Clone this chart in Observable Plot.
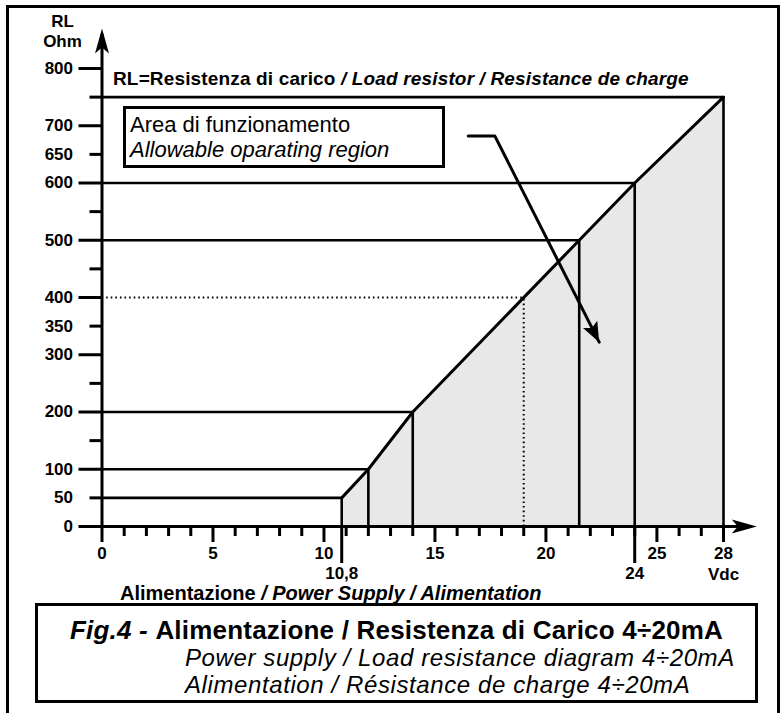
<!DOCTYPE html>
<html>
<head>
<meta charset="utf-8">
<script src="https://cdn.jsdelivr.net/npm/d3@7"></script>
<script src="https://cdn.jsdelivr.net/npm/@observablehq/plot@0.6"></script>
<style>
  html, body { margin: 0; padding: 0; background: #fff; }
  body { font-family: "Liberation Sans", Arial, sans-serif; color: #000; }
  #wrap { position: relative; width: 781px; height: 713px; overflow: hidden; }
  #frame { position: absolute; left: 6px; top: 5px; width: 774px; height: 800px; border: 3px solid #000; box-sizing: border-box; }
  #chart { position: absolute; left: 0; top: 0; }
  #chart svg { overflow: visible; }
  .ov { position: absolute; white-space: nowrap; }
  #topnote { left: 113px; top: 69px; font-size: 19px; font-weight: bold; line-height: 19px; letter-spacing: 0.15px; }
  #areabox { left: 123px; top: 106px; width: 322px; height: 62px; border: 3px solid #000; box-sizing: border-box; background: #fff; }
  #areabox div { position: absolute; left: 4px; font-size: 22px; line-height: 22px; }
  #xtitle { left: 120px; top: 583px; font-size: 20px; font-weight: bold; line-height: 20px; }
  #caption { left: 35px; top: 603px; width: 723px; height: 100px; border: 3px solid #000; box-sizing: border-box; }
  #caption div { position: absolute; white-space: nowrap; }
  #cap1 { left: 32px; top: 11px; font-size: 26px; line-height: 26px; font-weight: bold; letter-spacing: 0.2px; }
  #cap2 { left: 147px; top: 40px; font-size: 24px; line-height: 24px; font-style: italic; letter-spacing: 0.6px; }
  #cap3 { left: 147px; top: 67px; font-size: 24px; line-height: 24px; font-style: italic; letter-spacing: 0.6px; }
</style>
</head>
<body>
<div id="wrap">
  <div id="frame"></div>
  <div id="chart"></div>
  <div id="topnote" class="ov"></div>
  <div id="areabox" class="ov"><div id="ab1" style="top:5px"></div><div id="ab2" style="top:30px;font-style:italic"></div></div>
  <div id="xtitle" class="ov"></div>
  <div id="caption" class="ov"><div id="cap1"></div><div id="cap2"></div><div id="cap3"></div></div>
</div>
<script>
// ---- data ----
const supplyV = [10.8, 12, 14, 21.5, 24, 28];        // Vdc at each marked point
const loadR   = [50, 100, 200, 500, 600, 750];        // RL (Ohm) at each marked point
const exampleV = [19];                                // dotted example
const exampleR = [400];
const yMajorTicks   = [0, 100, 200, 300, 400, 500, 600, 700, 800];
const yMinorLabeled = [50, 350, 650];
const yMinorTicks   = [150, 250, 450, 550, 750];
const xMajorTicks   = [0, 5, 10, 15, 20, 25, 28];
const xMinorTicks   = [1, 2, 3, 4, 6, 7, 8, 9, 11, 12, 13, 14, 16, 17, 18, 19, 21, 22, 23, 24, 26, 27];
const xSecondRow    = [10.8, 24];
const xSecondLabels = ["10,8", "24"];
const xUnitAt = [28];
const xUnit = "Vdc";
const yUnitLines = ["RL", "Ohm"];
const axisEnds = { x: 29.5, y: 870 };
const calloutV = [16.5, 17.7, 22.4];
const calloutR = [682, 682, 322];

// texts
const topNoteA = "RL=Resistenza di carico ";
const topNoteB = "/ Load resistor / Resistance de charge";
const areaLine1 = "Area di funzionamento";
const areaLine2 = "Allowable oparating region";
const xTitleA = "Alimentazione ";
const xTitleB = "/ Power Supply / Alimentation";
const cap1A = "Fig.4 - ";
const cap1B = "Alimentazione / Resistenza di Carico 4÷20mA";
const cap2 = "Power supply / Load resistance diagram 4÷20mA";
const cap3 = "Alimentation / Résistance de charge 4÷20mA";

// ---- build ----
const pts = supplyV.map((v, i) => ({ v, r: loadR[i] }));
const ex = exampleV.map((v, i) => ({ v, r: exampleR[i] }));
const callout = calloutV.map((v, i) => ({ v, r: calloutR[i] }));
const secondLabel = new Map(xSecondRow.map((v, i) => [v, xSecondLabels[i]]));

const stealth = { draw(ctx) { ctx.moveTo(0, 0); ctx.lineTo(7, 25); ctx.lineTo(0, 19); ctx.lineTo(-7, 25); ctx.closePath(); } };
const smallHead = { draw(ctx) { ctx.moveTo(0, 0); ctx.lineTo(8, 20); ctx.lineTo(0, 16); ctx.lineTo(-8, 20); ctx.closePath(); } };

const font = { fontSize: 17, fontWeight: "bold", fill: "black" };

const chart = Plot.plot({
  width: 781,
  height: 600,
  marginLeft: 101.5,
  marginRight: 58,
  marginTop: 68,
  marginBottom: 74,
  x: { domain: [0, 28] },
  y: { domain: [0, 800] },
  style: { fontFamily: "'Liberation Sans', Arial, sans-serif", background: "transparent", color: "black" },
  marks: [
    Plot.areaY(pts, { x: "v", y: "r", fill: "#e8e8e8" }),
    Plot.ruleY(pts, { y: "r", x1: 0, x2: "v", stroke: "black", strokeWidth: 2.6 }),
    Plot.ruleX(pts, { x: "v", y1: 0, y2: "r", stroke: "black", strokeWidth: 2.6 }),
    Plot.ruleY(ex, { y: "r", x1: 0, x2: "v", stroke: "black", strokeWidth: 2, strokeDasharray: "1.6,3", strokeLinecap: "butt" }),
    Plot.ruleX(ex, { x: "v", y1: 0, y2: "r", stroke: "black", strokeWidth: 2, strokeDasharray: "1.6,3", strokeLinecap: "butt" }),
    Plot.line(pts, { x: "v", y: "r", stroke: "black", strokeWidth: 3 }),
    // axes lines + arrowheads
    Plot.ruleX([0], { y1: 0, y2: axisEnds.y - 10, stroke: "black", strokeWidth: 3 }),
    Plot.ruleY([0], { x1: 0, x2: axisEnds.x - 0.5, stroke: "black", strokeWidth: 3 }),
    Plot.dot([{ v: 0, r: axisEnds.y }], { x: "v", y: "r", symbol: stealth, fill: "black", stroke: "none" }),
    Plot.dot([{ v: axisEnds.x, r: 0 }], { x: "v", y: "r", symbol: stealth, rotate: 90, fill: "black", stroke: "none" }),
    // y axis ticks
    Plot.axisY(yMajorTicks, { tickSize: 23, tickPadding: 6, strokeWidth: 3, label: null, ...font }),
    Plot.axisY(yMinorLabeled, { tickSize: 12, tickPadding: 17, strokeWidth: 3, label: null, ...font }),
    Plot.axisY(yMinorTicks, { tickSize: 12, strokeWidth: 3, tickFormat: () => "", label: null }),
    // x axis ticks
    Plot.axisX(xMinorTicks, { tickSize: 10, strokeWidth: 3, tickFormat: () => "", label: null }),
    Plot.axisX(xMajorTicks, { tickSize: 16, tickPadding: 4, strokeWidth: 3, label: null, ...font }),
    Plot.axisX(xSecondRow, { tickSize: 37, tickPadding: 3, strokeWidth: 3, tickFormat: (d) => secondLabel.get(d), label: null, ...font }),
    Plot.text(xUnitAt, { x: (d) => d, frameAnchor: "bottom", lineAnchor: "middle", textAnchor: "middle", dy: 48, text: () => xUnit, ...font }),
    Plot.text(yUnitLines.slice(0, 1), { frameAnchor: "top-left", lineAnchor: "middle", textAnchor: "middle", dx: -39.5, dy: -46.5, text: (d) => d, ...font }),
    Plot.text(yUnitLines.slice(1), { frameAnchor: "top-left", lineAnchor: "middle", textAnchor: "middle", dx: -39.5, dy: -27, text: (d) => d, ...font }),
    // callout arrow
    Plot.line(callout, { x: "v", y: "r", stroke: "black", strokeWidth: 3 }),
    Plot.dot(callout.slice(-1), { x: "v", y: "r", symbol: smallHead, rotate: 153, fill: "black", stroke: "none" })
  ]
});
document.getElementById("chart").appendChild(chart);

// overlay texts
function mixed(el, a, b, styleB) {
  const s1 = document.createElement("span"); s1.textContent = a;
  const s2 = document.createElement("span"); s2.textContent = b; Object.assign(s2.style, styleB);
  el.append(s1, s2);
}
mixed(document.getElementById("topnote"), topNoteA, topNoteB, { fontStyle: "italic" });
document.getElementById("ab1").textContent = areaLine1;
document.getElementById("ab2").textContent = areaLine2;
mixed(document.getElementById("xtitle"), xTitleA, xTitleB, { fontStyle: "italic" });
const c1 = document.getElementById("cap1");
const i1 = document.createElement("span"); i1.textContent = cap1A; i1.style.fontStyle = "italic";
const r1 = document.createElement("span"); r1.textContent = cap1B;
c1.append(i1, r1);
document.getElementById("cap2").textContent = cap2;
document.getElementById("cap3").textContent = cap3;
</script>
</body>
</html>
